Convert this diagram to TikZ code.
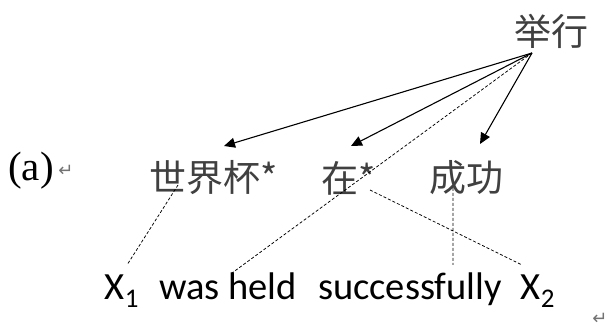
\documentclass[tikz,border=0pt]{standalone}
\usepackage{fontspec}
\setmainfont{Liberation Serif}
\newfontfamily\cjk{Noto Sans CJK SC}
\newfontfamily\carl{Carlito}
\newfontfamily\symb{DejaVu Sans}
\usetikzlibrary{arrows.meta}
\begin{document}
\begin{tikzpicture}[x=1pt, y=-1pt,
      zh/.style = {font=\cjk\fontsize{37}{40}\selectfont, text=black!75, inner sep=0pt},
      en/.style = {font=\carl\fontsize{38.5}{42}\selectfont, inner sep=0pt, anchor=base},
      ret/.style = {font=\symb\fontsize{18}{20}\selectfont, text=black!55, inner sep=0pt},
      dep/.style = {-{Triangle[length=11pt,width=10pt]}, line width=1.1pt},
      link/.style = {densely dashed, line width=0.75pt}]
      \useasboundingbox (0,0) rectangle (612,328);

      \node[zh] (jx) at (551,31) {举行};
      \node[zh] (sjb) at (214,178) {世界杯*};
      \node[zh] (zai) at (349,178) {在*};
      \node[zh] (cg) at (466,178) {成功};
      \node[font=\fontsize{41}{44}\selectfont, inner sep=0pt] (lbl) at (31,171) {(a)};
      \node[ret] (r1) at (66,171) {↵};

      \node[en] (xa) at (122,299) {X\textsubscript{1}};
      \node[en] (held) at (228,299) {was held};
      \node[en] (succ) at (410,299) {successfully};
      \node[en] (xb) at (538,299) {X\textsubscript{2}};
      \node[ret] (r2) at (600,319) {↵};

      \coordinate (src) at (532,53);

      \draw[dep] (src) to ([xshift=10pt,yshift=32pt]sjb.center);
      \draw[dep] (src) to ([xshift=2pt,yshift=32pt]zai.center);
      \draw[dep] (src) to ([xshift=14pt,yshift=34pt]cg.center);

      \draw[link] ([xshift=-36pt,yshift=-7pt]sjb.center) to ([xshift=5pt,yshift=34pt]xa.base)
      (src) to ([xshift=4pt,yshift=26pt]held.base)
      ([xshift=21pt,yshift=-12pt]zai.center) to ([xshift=-16pt,yshift=34pt]xb.base)
      ([xshift=-13pt,yshift=-10pt]cg.center) to ([xshift=43pt,yshift=34pt]succ.base);

    \end{tikzpicture}
\end{document}
